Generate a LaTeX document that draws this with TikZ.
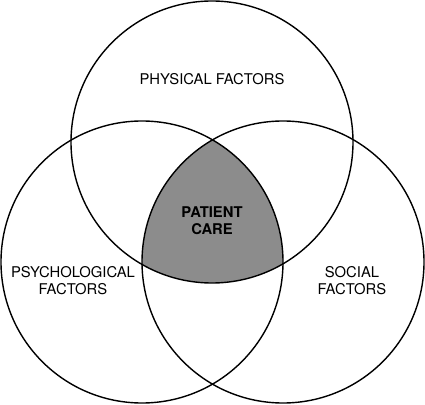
\documentclass[tikz,border=0pt]{standalone}
\usepackage{fontspec}
\setmainfont{TeX Gyre Heros}
\tikzset{
  ring/.style={line width=1.4pt},
  core/.style={fill=black!45},
  lbl/.style={align=center,inner sep=0pt,font=\fontsize{14.8}{17}\selectfont}
}
\begin{document}
\begin{tikzpicture}[x=1pt,y=1pt]
\def\r{141}
\useasboundingbox (0,0) rectangle (425,404);
\coordinate (phys) at (212, 262);
\coordinate (psych) at (142, 142);
\coordinate (soc) at (283, 142);

% shaded middle
\begin{scope}
\clip (phys) circle (\r);
\clip (psych) circle (\r);
\fill[core] (soc) circle (\r);
\end{scope}

\draw[ring] (phys) circle (\r);
\draw[ring] (psych) circle (\r);
\draw[ring] (soc) circle (\r);

\node[lbl] (lphys) at (212, 325) {PHYSICAL FACTORS};
\node[lbl] (lpsych) at (73, 123) {PSYCHOLOGICAL\\FACTORS};
\node[lbl] (lsoc) at (352, 123) {SOCIAL\\FACTORS};
\node[lbl,font=\fontsize{14.8}{17}\selectfont\bfseries] (lcare) at (212, 183.5) {PATIENT\\CARE};
\end{tikzpicture}
\end{document}
